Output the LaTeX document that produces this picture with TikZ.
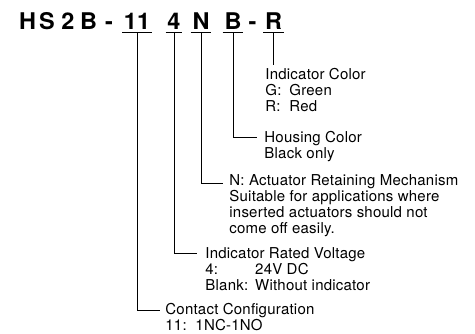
\documentclass[tikz,border=0pt]{standalone}
\usepackage{graphicx}
\usepackage{fontspec}
\newfontfamily\titlefamily{TeX Gyre Heros}
\newfontfamily\descfamily{TeX Gyre Heros}[LetterSpace=1.5]
\newcommand{\titlefont}{\titlefamily\bfseries\fontsize{23}{26}\selectfont}
\newcommand{\descfont}{\descfamily\fontsize{15}{15.7}\selectfont}
\newcommand{\wide}[1]{\scalebox{1.02}[1]{#1}}
\renewcommand{\arraystretch}{1}
\usetikzlibrary{positioning,calc}

\begin{document}
\begin{tikzpicture}[x=1pt, y=-1pt, line width=0.8pt,
    tchar/.style={inner sep=0pt, anchor=base, font=\titlefont},
    desc/.style={inner sep=0pt, anchor=base west, font=\descfont}]
    \useasboundingbox (0,0) rectangle (475,334);

    % Type number
    \node[tchar] (tH)  at (27.5,29.3)  {\wide{H}};
    \node[tchar] (tS)  at (47,29.3)    {\wide{S}};
    \node[tchar] (t2)  at (68,29.3)    {\wide{2}};
    \node[tchar] (tB1) at (88.5,29.3)  {\wide{B}};
    \node[tchar] (td1) at (109,29.3)   {\wide{-}};
    \node[tchar] (t11) at (137,29.3)   {\wide{11}};
    \node[tchar] (t4)  at (174,29.3)   {\wide{4}};
    \node[tchar] (tN)  at (201,29.3)   {\wide{N}};
    \node[tchar] (tB)  at (233,29.3)   {\wide{B}};
    \node[tchar] (td2) at (252.5,29.3) {\wide{-}};
    \node[tchar] (tR)  at (273.5,29.3) {\wide{R}};

    % Underlines of the code fields
    \foreach \f in {t11,t4,tN,tB,tR}
        \draw ([xshift=-1.5pt,yshift=-3.4pt]\f.base west) -- ([xshift=1.5pt,yshift=-3.4pt]\f.base east);

    % Descriptions
    \node[desc] (color) at (265,80) {\begin{tabular}[t]{@{}l@{\hspace{8pt}}l@{}}
        \multicolumn{2}{@{}l@{}}{Indicator Color}\\
        G: & Green\\
        R: & Red
    \end{tabular}};
    \node[desc] (housing) at (264,142.5) {\begin{tabular}[t]{@{}l@{}}
        Housing Color\\
        Black only
    \end{tabular}};
    \node[desc] (retain) at (229,186) {\begin{tabular}[t]{@{}l@{}}
        N: Actuator Retaining Mechanism\\
        Suitable for applications where\\
        inserted actuators should not\\
        come off easily.
    \end{tabular}};
    \node[desc] (volt) at (205,258.5) {\begin{tabular}[t]{@{}l@{\hspace{7pt}}l@{}}
        \multicolumn{2}{@{}l@{}}{Indicator Rated Voltage}\\
        4: & 24V DC\\
        Blank: & Without indicator
    \end{tabular}};
    \node[desc] (ccfg) at (165,315) {\begin{tabular}[t]{@{}l@{}}
        Contact Configuration\\[-0.7pt]
        11:\ \ 1NC-1NO
    \end{tabular}};

    % Leader lines
    \draw ([yshift=-3.4pt]tR.base) -- ([yshift=3pt]tR.base |- color.north);
    \draw ([yshift=-3.4pt]tB.base) |- ([xshift=-7pt,yshift=5pt]housing.base west);
    \draw ([yshift=-3.4pt]tN.base) |- ([xshift=-6pt,yshift=3pt]retain.base west);
    \draw ([yshift=-3.4pt]t4.base) |- ([xshift=-8pt,yshift=5.5pt]volt.base west);
    \draw ([yshift=-3.4pt]t11.base) |- ([xshift=-5pt,yshift=4.5pt]ccfg.base west);
\end{tikzpicture}
\end{document}
